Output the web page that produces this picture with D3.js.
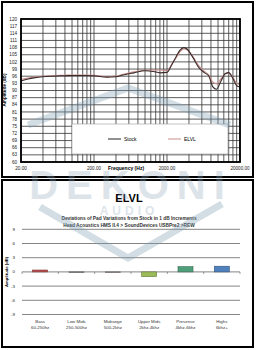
<!DOCTYPE html>
<html>
<head>
<meta charset="utf-8">
<script src="https://cdn.jsdelivr.net/npm/d3@7"></script>
<style>
  body { margin: 0; background: #fff; }
  svg { display: block; font-family: "Liberation Sans", Arial, sans-serif; }
</style>
</head>
<body>
<svg width="258" height="350"></svg>
<script>
// frequency response data
var freqs = [20, 25, 30, 40, 50, 60, 80, 100, 150, 200, 300, 400, 500, 700, 1000, 1300, 1600, 2000, 2300, 2700, 3000, 3400, 3800, 4500, 5500, 6500, 7500, 8500, 9500, 11000, 12500, 14000, 16000, 18000, 20000];
var stock = [94.0, 94.8, 95.3, 95.8, 96.0, 96.1, 96.2, 96.3, 96.3, 96.2, 95.6, 95.8, 96.5, 97.4, 98.3, 98.0, 97.4, 97.6, 100.5, 104.5, 106.8, 108.0, 107.3, 104.0, 99.5, 97.5, 96.0, 91.5, 90.5, 94.0, 97.0, 97.5, 95.0, 92.0, 91.5];
var elvl = [94.6, 95.2, 95.6, 96.0, 96.2, 96.3, 96.4, 96.5, 96.5, 96.4, 95.8, 96.1, 96.8, 97.8, 98.5, 98.6, 98.6, 98.4, 100.8, 104.0, 106.2, 107.4, 107.0, 104.3, 100.2, 98.0, 96.5, 93.5, 92.8, 95.0, 97.0, 97.3, 95.5, 93.0, 92.5];
var yTicksTop = d3.range(60, 121, 3);
var xLabelsTop = [20, 200, 2000, 20000];

// deviation bars
var bands = ["Bass|60-250hz", "Low Mids|250-500hz", "Midrange|500-2khz", "Upper Mids|2khz-4khz", "Presence|4khz-6khz", "Highs|6khz+"];
var devs = [0.4, -0.1, -0.1, -1.0, 1.1, 1.2];
var barColors = ["#c0504d", "#8a8080", "#958a8a", "#9bbb59", "#4fa07a", "#4f81bd"];
var yTicksBot = [-9, -6, -3, 0, 3, 6, 9];

var svg = d3.select("svg");

// panels
svg.append("rect").attr("x", 2).attr("y", 2).attr("width", 251).attr("height", 175)
	.attr("fill", "#fff").attr("stroke", "#000").attr("stroke-width", 2);
svg.append("rect").attr("x", 2).attr("y", 180).attr("width", 251).attr("height", 167)
	.attr("fill", "#fff").attr("stroke", "#000").attr("stroke-width", 2);

// ---- top chart ----
var x = d3.scaleLog().domain([20, 20000]).range([21, 240]),
	y = d3.scaleLinear().domain([60, 120]).range([162, 19]);

var gTop = svg.append("g");

var vgrid = [];
[20, 200, 2000].forEach(function(b) {
	for (var k = 1; k <= 9; k++) vgrid.push(b * k);
});
vgrid.push(20000);

gTop.selectAll(".vg").data(vgrid).enter().append("line")
	.attr("x1", function(d) { return x(d); }).attr("x2", function(d) { return x(d); })
	.attr("y1", y(120)).attr("y2", y(60))
	.attr("stroke", "#333").attr("stroke-width", 0.8);

gTop.selectAll(".hg").data(yTicksTop).enter().append("line")
	.attr("x1", x(20)).attr("x2", x(20000))
	.attr("y1", function(d) { return y(d); }).attr("y2", function(d) { return y(d); })
	.attr("stroke", "#333").attr("stroke-width", 0.8);

gTop.selectAll(".yl").data(yTicksTop).enter().append("text")
	.attr("x", 17).attr("y", function(d) { return y(d) + 1.6; })
	.attr("text-anchor", "end").attr("font-size", 4.6).attr("fill", "#222")
	.text(function(d) { return d; });

gTop.selectAll(".xl").data(xLabelsTop).enter().append("text")
	.attr("x", function(d) { return x(d); }).attr("y", 170)
	.attr("text-anchor", "middle").attr("font-size", 4.6).attr("fill", "#222")
	.text(function(d) { return d.toFixed(2); });

gTop.append("text").attr("x", 126).attr("y", 170).attr("text-anchor", "middle")
	.attr("font-size", 5).attr("font-weight", "bold").text("Frequency (Hz)");
gTop.append("text").attr("transform", "translate(6,90) rotate(-90)")
	.attr("text-anchor", "middle").attr("font-size", 4.6).attr("font-weight", "bold")
	.text("Amplitude (dB)");

// legend box
gTop.append("rect").attr("x", 72).attr("y", 124).attr("width", 156).attr("height", 30)
	.attr("fill", "#fff").attr("stroke", "#999").attr("stroke-width", 0.6);
gTop.append("line").attr("x1", 108).attr("x2", 121).attr("y1", 139).attr("y2", 139)
	.attr("stroke", "#222").attr("stroke-width", 1);
gTop.append("text").attr("x", 124).attr("y", 141).attr("font-size", 5).text("Stock");
gTop.append("line").attr("x1", 168).attr("x2", 181).attr("y1", 139).attr("y2", 139)
	.attr("stroke", "#c9908c").attr("stroke-width", 1);
gTop.append("text").attr("x", 184).attr("y", 141).attr("font-size", 5).text("ELVL");

var line = d3.line().curve(d3.curveMonotoneX);
function pts(vals) {
	return freqs.map(function(f, i) { return [x(f), y(vals[i])]; });
}
gTop.append("path").attr("d", line(pts(elvl))).attr("fill", "none")
	.attr("stroke", "#c9908c").attr("stroke-width", 1.1);
gTop.append("path").attr("d", line(pts(stock))).attr("fill", "none")
	.attr("stroke", "#3a2a2a").attr("stroke-width", 1.1);

gTop.append("rect").attr("x", x(20)).attr("y", y(120))
	.attr("width", x(20000) - x(20)).attr("height", y(60) - y(120))
	.attr("fill", "none").attr("stroke", "#000").attr("stroke-width", 1.8);

// ---- bottom chart ----
var bot = svg.append("g");
bot.append("text").attr("x", 129).attr("y", 202).attr("text-anchor", "middle")
	.attr("font-size", 11).attr("font-weight", "bold").text("ELVL");
bot.append("text").attr("x", 129).attr("y", 220).attr("text-anchor", "middle")
	.attr("font-size", 4.8).attr("font-weight", "bold").attr("fill", "#333")
	.text("Deviations of Pad Variations from Stock in 1 dB Increments");
bot.append("text").attr("x", 129).attr("y", 227).attr("text-anchor", "middle")
	.attr("font-size", 4.8).attr("font-weight", "bold").attr("fill", "#333")
	.text("Head Acoustics HMS II.4 > SoundDevices USBPre2 >REW");

var xb = d3.scaleBand().domain(bands).range([22, 240]),
	yb = d3.scaleLinear().domain([-9, 9]).range([314.5, 229.3]);

bot.selectAll(".bg").data(yTicksBot).enter().append("line")
	.attr("x1", 22).attr("x2", 240)
	.attr("y1", function(d) { return yb(d); }).attr("y2", function(d) { return yb(d); })
	.attr("stroke", "#666").attr("stroke-width", 0.8);
bot.selectAll(".byl").data(yTicksBot).enter().append("text")
	.attr("x", 15).attr("y", function(d) { return yb(d) + 1.5; })
	.attr("text-anchor", "end").attr("font-size", 4.4).attr("fill", "#222")
	.text(function(d) { return d; });
bot.append("text").attr("transform", "translate(8," + yb(0) + ") rotate(-90)")
	.attr("text-anchor", "middle").attr("font-size", 4.2).attr("font-weight", "bold")
	.text("Amplitude (dB)");

// category tick marks on zero line
bot.selectAll(".bt").data(d3.range(bands.length + 1)).enter().append("line")
	.attr("x1", function(i) { return 22 + i * xb.step(); })
	.attr("x2", function(i) { return 22 + i * xb.step(); })
	.attr("y1", yb(0)).attr("y2", yb(0) + 2)
	.attr("stroke", "#555").attr("stroke-width", 0.6);

var bw = 15;
bot.selectAll(".bar").data(devs).enter().append("rect")
	.attr("x", function(d, i) { return xb(bands[i]) + xb.bandwidth() / 2 - bw / 2; })
	.attr("y", function(d) { return yb(Math.max(d, 0)); })
	.attr("width", bw)
	.attr("height", function(d) { return Math.abs(yb(d) - yb(0)); })
	.attr("fill", function(d, i) { return barColors[i]; })
	.attr("stroke", function(d, i) { return d3.color(barColors[i]).darker(1.2); })
	.attr("stroke-width", 0.6);

bands.forEach(function(b, i) {
	var parts = b.split("|");
	var t = bot.append("text").attr("text-anchor", "middle").attr("font-size", 4.4).attr("fill", "#333");
	t.append("tspan").attr("x", xb(b) + xb.bandwidth() / 2).attr("y", 323).text(parts[0]);
	t.append("tspan").attr("x", xb(b) + xb.bandwidth() / 2).attr("y", 329).text(parts[1]);
});

// watermark
var wm = svg.append("g").attr("opacity", 0.35).attr("fill", "none")
	.attr("stroke", "#7f9fb5").attr("stroke-width", 7);
wm.append("path").attr("d", "M28,125 L128,88 L230,125");
wm.append("path").attr("d", "M40,207 L128,258 L222,204");
svg.append("text").attr("x", 131).attr("y", 199).attr("text-anchor", "middle")
	.attr("font-size", 40).attr("font-weight", "bold").attr("letter-spacing", 8)
	.attr("fill", "#8fa9bc").attr("opacity", 0.3).text("DEKONI");
svg.append("text").attr("x", 129).attr("y", 215).attr("text-anchor", "middle")
	.attr("font-size", 12).attr("font-weight", "bold").attr("letter-spacing", 4)
	.attr("fill", "#8fa9bc").attr("opacity", 0.3).text("AUDIO");
</script>
</body>
</html>
